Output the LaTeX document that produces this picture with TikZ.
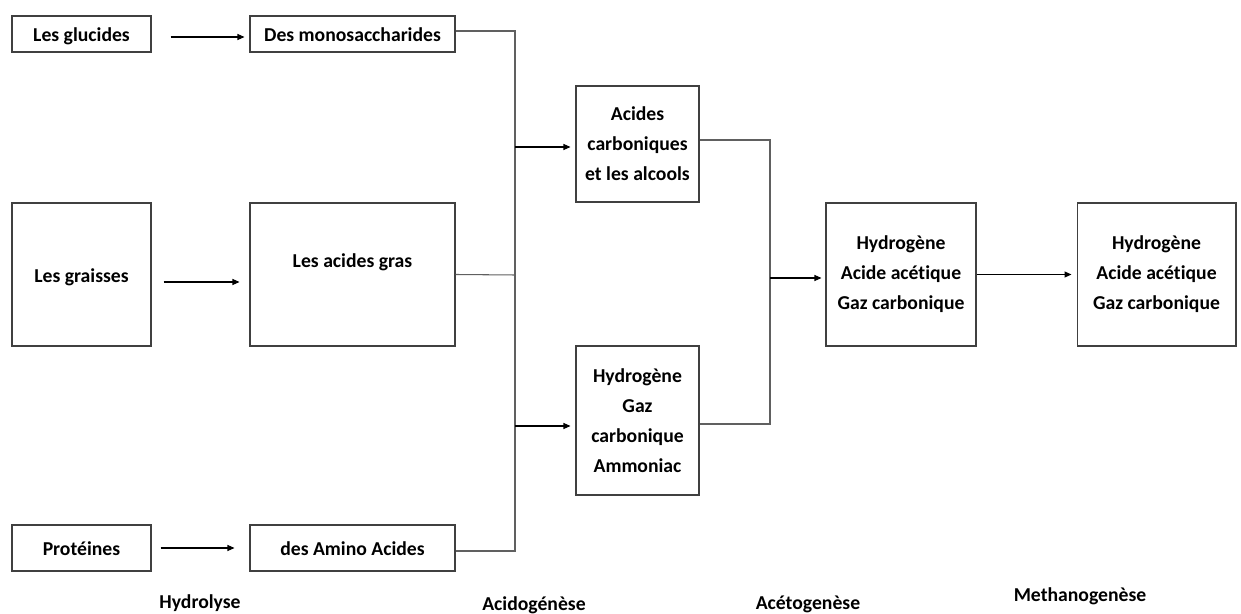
\documentclass[tikz,border=0pt]{standalone}
\usepackage{fontspec}
\setmainfont{Carlito}[Ligatures=NoCommon]
\usetikzlibrary{arrows.meta}
\definecolor{cadre}{RGB}{64,64,64}
\definecolor{trait}{RGB}{96,96,96}

\tikzset{
  etape/.style={draw=cadre, line width=0.6pt, inner sep=0pt, align=center,
    font=\fontsize{11.2}{17}\selectfont\bfseries, text=black},
  petit/.style={etape, minimum width=2.78cm, minimum height=0.72cm, text height=0.36cm, text depth=0.04cm},
  moyen/.style={etape, minimum width=4.1cm, minimum height=0.72cm, text height=0.36cm, text depth=0.04cm},
  phase/.style={anchor=base, font=\fontsize{11.2}{17}\selectfont\bfseries},
  lien/.style={draw=trait, line width=0.6pt},
  fleche/.style={draw=black, line width=0.6pt, -{Triangle[length=0.14cm,width=0.12cm]}}
}

\begin{document}
\begin{tikzpicture}[x=0.02cm, y=-0.02cm]
    \useasboundingbox (0,0) rectangle (1241,614);

    % hydrolyse
    \node[petit] (glucides) at (81.5,34) {Les glucides};
    \node[moyen] (mono) at (352.5,34) {Des monosaccharides};
    \node[petit, minimum height=2.86cm] (graisses) at (81.5,274.5) {Les graisses};
    \node[moyen, minimum height=2.86cm, text height=0.32cm, text depth=0.58cm] (gras) at (352.5,274.5) {Les acides gras};
    \node[petit, minimum height=0.92cm] (proteines) at (81.5,548) {Protéines};
    \node[moyen, minimum height=0.92cm] (amino) at (352.5,548) {des Amino Acides};

    \draw[fleche, shorten <=0.38cm, shorten >=0.1cm] ([yshift=-0.06cm]glucides.east) -- ([yshift=-0.06cm]mono.west);
    \draw[fleche, shorten <=0.24cm, shorten >=0.2cm] ([yshift=-0.15cm]graisses.east) -- ([yshift=-0.15cm]gras.west);
    \draw[fleche, shorten <=0.18cm, shorten >=0.3cm] (proteines) -- (amino);

    % acidogenese
    \node[etape, minimum width=2.46cm, minimum height=2.32cm] (acides) at (637.5,144) {Acides\\carboniques\\et les alcools};
    \node[etape, minimum width=2.46cm, minimum height=2.98cm] (gaz) at (637.5,420.5) {Hydrogène\\Gaz\\carbonique\\Ammoniac};

    \coordinate (bus1) at (515,275);
    \draw[lien] ([yshift=0.06cm]mono.east) -| (bus1) |- ([yshift=-0.06cm]amino.east);
    \draw[lien] (gras.east) -- (bus1);
    \draw[fleche, shorten >=0.1cm] (bus1 |- {(0,147)}) -- (acides.west |- {(0,147)});
    \draw[fleche, shorten >=0.1cm] (bus1 |- {(0,426)}) -- (gaz.west |- {(0,426)});

    % acetogenese et methanogenese
    \node[etape, minimum width=3cm, minimum height=2.86cm] (aceto) at (901,274.5) {Hydrogène\\Acide acétique\\Gaz carbonique};
    \node[etape, minimum width=3.18cm, minimum height=2.86cm] (metha) at (1156.5,274.5) {Hydrogène\\Acide acétique\\Gaz carbonique};

    \coordinate (bus2) at (770,278);
    \draw[lien] ([yshift=0.08cm]acides.east) -| (bus2) |- ([yshift=-0.07cm]gaz.east);
    \draw[fleche, shorten >=0.08cm] (bus2) -- (aceto.west |- bus2);
    \draw[fleche, shorten >=0.1cm] (aceto) -- (metha);

    % noms des phases
    \node[phase] (hydrolyse) at (200,609) {Hydrolyse};
    \node[phase] (acidogenese) at (534,611) {Acidogénèse};
    \node[phase] (acetogenese) at (808,610) {Acétogenèse};
    \node[phase] (methanogenese) at (1080,602) {Methanogenèse};

\end{tikzpicture}
\end{document}
